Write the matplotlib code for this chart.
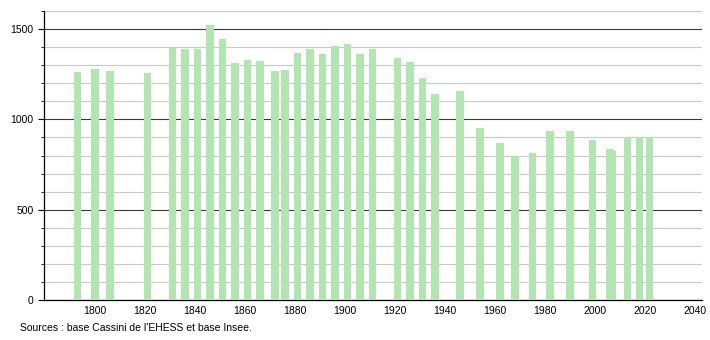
import matplotlib
matplotlib.use("Agg")
import matplotlib.pyplot as plt
from matplotlib.ticker import MultipleLocator

# Population par recensement
annees = [1793, 1800, 1806, 1821, 1831, 1836, 1841, 1846, 1851, 1856,
          1861, 1866, 1872, 1876, 1881, 1886, 1891, 1896, 1901, 1906,
          1911, 1921, 1926, 1931, 1936, 1946, 1954, 1962, 1968, 1975,
          1982, 1990, 1999, 2007, 2006, 2013, 2018, 2022]
population = [1265, 1278, 1269, 1258, 1398, 1391, 1391, 1524, 1445, 1312,
              1330, 1325, 1269, 1275, 1367, 1391, 1363, 1408, 1419, 1363,
              1389, 1341, 1319, 1228, 1140, 1158, 955, 868, 800, 815,
              935, 935, 885, 825, 834, 901, 901, 901]

x_ticks = list(range(1800, 2041, 20))
source = "Sources : base Cassini de l'EHESS et base Insee."

plt.rcParams['font.family'] = ['Liberation Sans', 'DejaVu Sans']

fig = plt.figure(figsize=(7.1, 3.4), dpi=100)
ax = fig.add_axes([0.0613, 0.1176, 0.9277, 0.850])

ax.bar(annees, population, width=3.0, color='#b3e5b3', zorder=3)

ax.set_xlim(1779.3, 2043)
ax.set_ylim(0, 1600)

ax.yaxis.set_major_locator(MultipleLocator(500))
ax.yaxis.set_minor_locator(MultipleLocator(100))
ax.set_xticks(x_ticks)
ax.set_xticklabels([str(a) for a in x_ticks])

ax.grid(axis='y', which='minor', color='#c8c8c8', linewidth=0.8, zorder=1)
ax.grid(axis='y', which='major', color='#3a3a3a', linewidth=0.8, zorder=2)

for s in ['top', 'right']:
    ax.spines[s].set_visible(False)
ax.spines['left'].set_color('black')
ax.spines['bottom'].set_color('black')
ax.spines['left'].set_linewidth(0.9)
ax.spines['bottom'].set_linewidth(0.9)

ax.tick_params(axis='y', which='major', length=4, width=0.8, labelsize=7.5, pad=3)
ax.tick_params(axis='y', which='minor', length=2, width=0.6)
ax.tick_params(axis='x', length=0, labelsize=7.5, pad=4)

fig.text(0.028, 0.035, source, fontsize=7.5, ha='left', va='center')

fig.savefig("out.png", dpi=100)
